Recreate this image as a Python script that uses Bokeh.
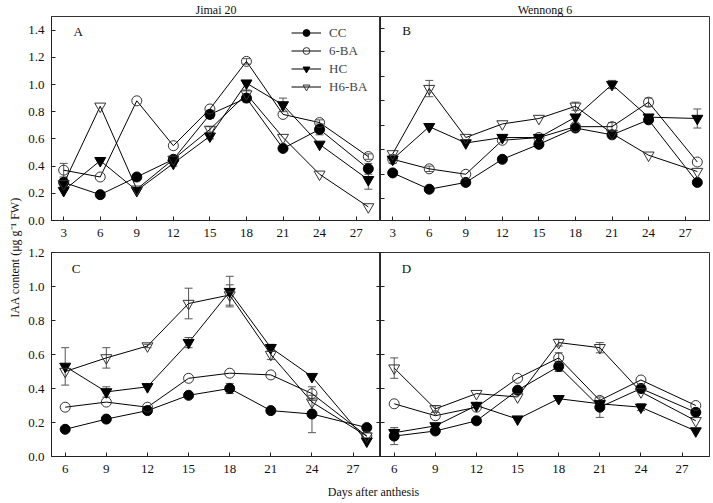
import math
from bokeh.plotting import figure
from bokeh.models import (Range1d, FixedTicker, Whisker, ColumnDataSource, Label,
                          Legend, LegendItem, TeeHead, LinearAxis, PrintfTickFormatter,
                          CustomLabelingPolicy)
from bokeh.layouts import row, column
from bokeh.embed import file_html
from bokeh.resources import INLINE
from bokeh.core.properties import value

FONT = "Liberation Serif"

# ---------------- data ----------------
series_names = ["CC", "6-BA", "HC", "H6-BA"]
days_top = [3, 6, 9, 12, 15, 18, 21, 24, 28]
days_bot = [6, 9, 12, 15, 18, 21, 24, 28]
ticks_top = [3, 6, 9, 12, 15, 18, 21, 24, 27]
ticks_bot = [6, 9, 12, 15, 18, 21, 24, 27]
yticks_top = [0.0, 0.2, 0.4, 0.6, 0.8, 1.0, 1.2, 1.4]
yticks_bot = [0.0, 0.2, 0.4, 0.6, 0.8, 1.0, 1.2]
yticks_b = [0.16, 0.34, 0.52, 0.70, 0.88, 1.06, 1.24, 1.41]

title_top_left = "Jimai 20"
title_top_right = "Wennong 6"
y_label = "IAA content (\u03bcg g\u207b\u00b9 FW)"
x_label = "Days after anthesis"

# Panel A (Jimai 20, top)
a_cc = [0.28, 0.19, 0.32, 0.45, 0.78, 0.90, 0.53, 0.67, 0.38]
a_ba = [0.37, 0.32, 0.88, 0.55, 0.82, 1.17, 0.78, 0.72, 0.47]
a_hc = [0.22, 0.44, 0.22, 0.42, 0.62, 1.01, 0.85, 0.56, 0.30]
a_hba = [0.27, 0.84, 0.23, 0.45, 0.67, 0.93, 0.61, 0.34, 0.10]
a_cc_err = [0.03, 0.0, 0.0, 0.02, 0.03, 0.03, 0.0, 0.04, 0.04]
a_ba_err = [0.05, 0.0, 0.0, 0.0, 0.0, 0.02, 0.0, 0.02, 0.02]
a_hc_err = [0.0, 0.0, 0.0, 0.02, 0.02, 0.0, 0.05, 0.0, 0.07]
a_hba_err = [0.0, 0.0, 0.0, 0.0, 0.02, 0.03, 0.0, 0.0, 0.0]

# Panel B (Wennong 6, top)
b_cc = [0.35, 0.23, 0.28, 0.45, 0.56, 0.68, 0.63, 0.74, 0.28]
b_ba = [0.45, 0.38, 0.34, 0.59, 0.61, 0.69, 0.69, 0.87, 0.43]
b_hc = [0.45, 0.69, 0.57, 0.61, 0.61, 0.76, 1.00, 0.76, 0.75]
b_hba = [0.49, 0.97, 0.61, 0.71, 0.75, 0.84, 0.64, 0.48, 0.36]
b_cc_err = [0.0, 0.0, 0.0, 0.0, 0.02, 0.0, 0.0, 0.0, 0.0]
b_ba_err = [0.0, 0.02, 0.0, 0.0, 0.0, 0.0, 0.03, 0.03, 0.0]
b_hc_err = [0.03, 0.0, 0.0, 0.0, 0.0, 0.0, 0.03, 0.0, 0.07]
b_hba_err = [0.0, 0.06, 0.0, 0.0, 0.0, 0.03, 0.0, 0.0, 0.0]

# Panel C (Jimai 20, bottom)
c_cc = [0.16, 0.22, 0.27, 0.36, 0.40, 0.27, 0.25, 0.17]
c_ba = [0.29, 0.32, 0.29, 0.46, 0.49, 0.48, 0.37, 0.12]
c_hc = [0.53, 0.38, 0.41, 0.67, 0.97, 0.64, 0.47, 0.09]
c_hba = [0.50, 0.58, 0.65, 0.90, 0.95, 0.60, 0.32, 0.12]
c_cc_err = [0.0, 0.0, 0.0, 0.0, 0.03, 0.0, 0.11, 0.0]
c_ba_err = [0.0, 0.0, 0.0, 0.0, 0.0, 0.0, 0.04, 0.0]
c_hc_err = [0.11, 0.03, 0.0, 0.03, 0.09, 0.02, 0.0, 0.0]
c_hba_err = [0.0, 0.06, 0.01, 0.09, 0.06, 0.03, 0.0, 0.0]

# Panel D (Wennong 6, bottom)
d_cc = [0.12, 0.15, 0.21, 0.39, 0.53, 0.29, 0.40, 0.26]
d_ba = [0.31, 0.24, 0.29, 0.46, 0.58, 0.33, 0.45, 0.30]
d_hc = [0.14, 0.18, 0.30, 0.22, 0.34, 0.31, 0.29, 0.15]
d_hba = [0.52, 0.28, 0.37, 0.35, 0.67, 0.64, 0.38, 0.21]
d_cc_err = [0.05, 0.0, 0.0, 0.0, 0.03, 0.06, 0.02, 0.0]
d_ba_err = [0.0, 0.0, 0.0, 0.0, 0.03, 0.0, 0.0, 0.0]
d_hc_err = [0.02, 0.0, 0.0, 0.0, 0.0, 0.0, 0.02, 0.0]
d_hba_err = [0.06, 0.02, 0.0, 0.0, 0.02, 0.03, 0.0, 0.0]

# ---------------- styling ----------------
STYLE = {
    "CC": dict(marker="circle", size=10, fill_color="black", line_color="black"),
    "6-BA": dict(marker="circle", size=10, fill_color=None, line_color="#333333"),
    "HC": dict(marker="inverted_triangle", size=11, fill_color="black", line_color="black"),
    "H6-BA": dict(marker="inverted_triangle", size=11, fill_color=None, line_color="#333333"),
}
AX = "#222222"
NO_LABELS = "return new Set()"


def style_axis(ax, labels=True, standoff=7):
    ax.axis_line_color = AX
    ax.major_tick_line_color = AX
    ax.major_tick_in = 4
    ax.major_tick_out = 0
    ax.minor_tick_line_color = None
    ax.major_label_text_font = FONT
    ax.major_label_text_color = "#111111"
    if labels:
        ax.major_label_text_font_size = "13px"
        ax.major_label_standoff = standoff
    else:
        ax.major_label_text_font_size = "0px"
        ax.major_label_standoff = 0
        ax.major_label_policy = CustomLabelingPolicy(code=NO_LABELS)


def make_fig(width, height, xr, yr, mb_left, mb_top, mb_bottom, mb_right,
             xticks, yticks, ylabels, title=None):
    p = figure(width=width, height=height, x_range=Range1d(*xr), y_range=Range1d(*yr),
               output_backend="svg", toolbar_location=None,
               min_border_left=mb_left, min_border_right=mb_right,
               min_border_top=mb_top, min_border_bottom=mb_bottom)
    if title:
        p.title.text = title
        p.title.align = "center"
        p.title.text_font = FONT
        p.title.text_font_size = "12px"
        p.title.text_font_style = "normal"
        p.title.text_color = "#111111"
        p.title.standoff = 0
        p.title.offset = 0
    p.xgrid.visible = False
    p.ygrid.visible = False
    p.outline_line_color = "#333333"
    p.outline_line_width = 1
    p.xaxis.ticker = FixedTicker(ticks=xticks)
    p.yaxis.ticker = FixedTicker(ticks=yticks)
    p.yaxis.formatter = PrintfTickFormatter(format="%.1f")
    style_axis(p.xaxis[0], True, 8)
    style_axis(p.yaxis[0], ylabels, 7)
    return p


def draw(p, xs, ys_list, errs_list, legend=None):
    items = []
    for name, ys, errs in zip(series_names, ys_list, errs_list):
        st = STYLE[name]
        lr = p.line(xs, ys, line_color="black", line_width=1)
        sr = p.scatter(xs, ys, marker=st["marker"], size=st["size"],
                       fill_color=st["fill_color"], line_color=st["line_color"], line_width=1)
        ex = [x for x, e in zip(xs, errs) if e > 0]
        up = [y + e for y, e in zip(ys, errs) if e > 0]
        lo = [y - e for y, e in zip(ys, errs) if e > 0]
        if ex:
            src = ColumnDataSource(dict(x=ex, upper=up, lower=lo))
            w = Whisker(base="x", upper="upper", lower="lower", source=src,
                        dimension="height", line_color="#555555", line_width=1,
                        upper_head=TeeHead(size=8, line_color="#555555", line_width=1),
                        lower_head=TeeHead(size=8, line_color="#555555", line_width=1))
            p.add_layout(w)
        items.append(LegendItem(label=name, renderers=[lr, sr]))
    if legend is not None:
        lg = Legend(items=items, location=legend, border_line_color=None,
                    background_fill_alpha=0, padding=0, margin=0, spacing=1,
                    label_text_font=FONT, label_text_font_size="13px",
                    glyph_width=30, glyph_height=17, label_height=17, label_standoff=8)
        p.add_layout(lg)


def letter(p, x, y, t, size="13px"):
    p.add_layout(Label(x=x, y=y, text=t, text_align="center", text_baseline="middle",
                       text_font=FONT, text_font_size=size, text_color="#111111"))


# ---------------- figures ----------------
top_xr = (2, 29)
bot_xr = (5, 29)

pa = make_fig(355, 244, top_xr, (0, 1.5), 25, 16, 24, 0, ticks_top, yticks_top, True,
              title_top_left)
pb = make_fig(331, 244, top_xr, (0, 1.5), 0, 16, 24, 2, ticks_top, yticks_b, False,
              title_top_right)
pc = make_fig(355, 236, bot_xr, (0, 1.2), 25, 8, 24, 0, ticks_bot, yticks_bot, True)
pd = make_fig(331, 236, bot_xr, (0, 1.2), 0, 8, 24, 2, ticks_bot, yticks_bot, False)

# inward ticks on the right side of C (shared divider with D)
c_right = LinearAxis(ticker=FixedTicker(ticks=yticks_bot))
style_axis(c_right, False, 0)
pc.add_layout(c_right, "right")

draw(pa, days_top, [a_cc, a_ba, a_hc, a_hba], [a_cc_err, a_ba_err, a_hc_err, a_hba_err],
     legend=(240, 125))
draw(pb, days_top, [b_cc, b_ba, b_hc, b_hba], [b_cc_err, b_ba_err, b_hc_err, b_hba_err])
draw(pc, days_bot, [c_cc, c_ba, c_hc, c_hba], [c_cc_err, c_ba_err, c_hc_err, c_hba_err])
draw(pd, days_bot, [d_cc, d_ba, d_hc, d_hba], [d_cc_err, d_ba_err, d_hc_err, d_hba_err])

letter(pa, 4.2, 1.39, "A")
letter(pb, 4.15, 1.40, "B")
letter(pc, 6.8, 1.105, "C")
letter(pd, 6.9, 1.105, "D")

# y-axis label strip
pyl = figure(width=25, height=502, x_range=Range1d(0, 25), y_range=Range1d(0, 502),
             output_backend="svg", toolbar_location=None,
             min_border_left=0, min_border_right=0, min_border_top=0, min_border_bottom=0)
pyl.axis.visible = False
pyl.grid.visible = False
pyl.outline_line_color = None
pyl.text(x=[14], y=[502 - 257], text=[y_label], angle=math.pi / 2,
         text_align="center", text_baseline="middle",
         text_font=value(FONT), text_font_size="12px", text_color="#111111")

# x-axis label strip
pxl = figure(width=686, height=22, x_range=Range1d(0, 686), y_range=Range1d(0, 22),
             output_backend="svg", toolbar_location=None,
             min_border_left=0, min_border_right=0, min_border_top=0, min_border_bottom=0)
pxl.axis.visible = False
pxl.grid.visible = False
pxl.outline_line_color = None
pxl.text(x=[348], y=[11], text=[x_label], text_align="center", text_baseline="middle",
         text_font=value(FONT), text_font_size="12px", text_color="#111111")

layout = row(pyl, column(row(pa, pb), row(pc, pd), pxl))

open("out.html", "w").write(file_html(layout, INLINE))
